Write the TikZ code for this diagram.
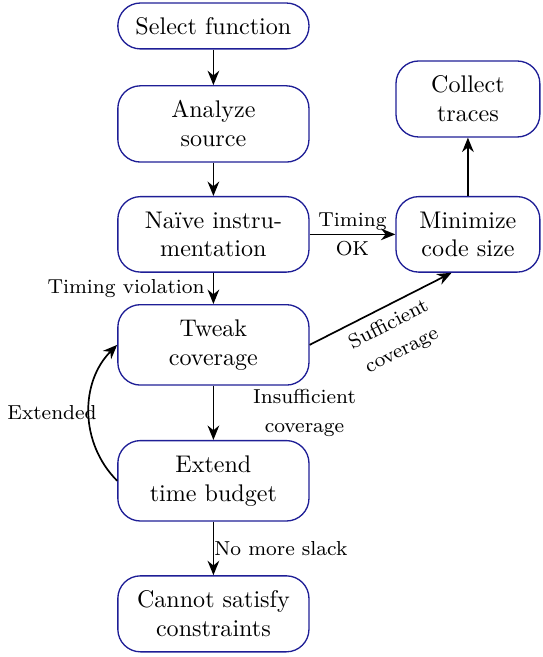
\documentclass[tikz,border=0pt]{standalone}
\usepackage{tikz}
\usetikzlibrary{arrows.meta,positioning}
\definecolor{FlowBlue}{HTML}{1E1E96}
\tikzset{
  flow/.style={-{Stealth[length=2.1mm,width=1.7mm]},black,line width=0.7pt},
  box/.style={draw=FlowBlue,line width=0.55pt,rounded corners=3.3mm,
              align=center,minimum width=2.79cm,minimum height=0.67cm,
              inner ysep=6.2pt},
  boxnarrow/.style={box,minimum width=2.10cm},
  edgelabel/.style={font=\fontsize{8.4}{12}\selectfont,align=center},
}

\begin{document}
\begin{tikzpicture}[x=1cm,y=1cm]
    \useasboundingbox (0,0) rectangle (7.92,-9.59);

    \node[box,inner ysep=5pt] (select) at (3.115,-0.379) {Select function};
    \node[box] (analyze) at (3.115,-1.809) {Analyze\\source};
    \node[box] (naive) at (3.115,-3.421) {Na\"ive instru-\\mentation};
    \node[box] (tweak) at (3.115,-5.034) {Tweak\\coverage};
    \node[box] (extend) at (3.115,-7.018) {Extend\\time budget};
    \node[box] (cannot) at (3.115,-8.96) {Cannot satisfy\\constraints};
    \node[boxnarrow] (collect) at (6.83,-1.445) {Collect\\traces};
    \node[boxnarrow] (minimize) at (6.83,-3.421) {Minimize\\code size};

    \draw[flow] (select)--(analyze);
    \draw[flow] (analyze)--(naive);
    \draw[flow] (naive)--node[edgelabel,left]{Timing violation} (tweak);
    \draw[flow] (naive)--node[edgelabel]{Timing\\OK} (minimize);
    \draw[flow] (tweak.east)--node[edgelabel,sloped,below]
      {Sufficient\\coverage} (minimize.-113);
    \draw[flow] (tweak)--node[edgelabel,right,xshift=0.45cm]
      {Insufficient\\coverage} (extend);
    \draw[flow] (extend.west) to[bend left=45]
      node[edgelabel,left,xshift=0.24cm]{Extended} (tweak.west);
    \draw[flow] (extend)--node[edgelabel,right,inner sep=0pt]{No more slack} (cannot);
    \draw[flow] (minimize)--(collect);
\end{tikzpicture}
\end{document}
